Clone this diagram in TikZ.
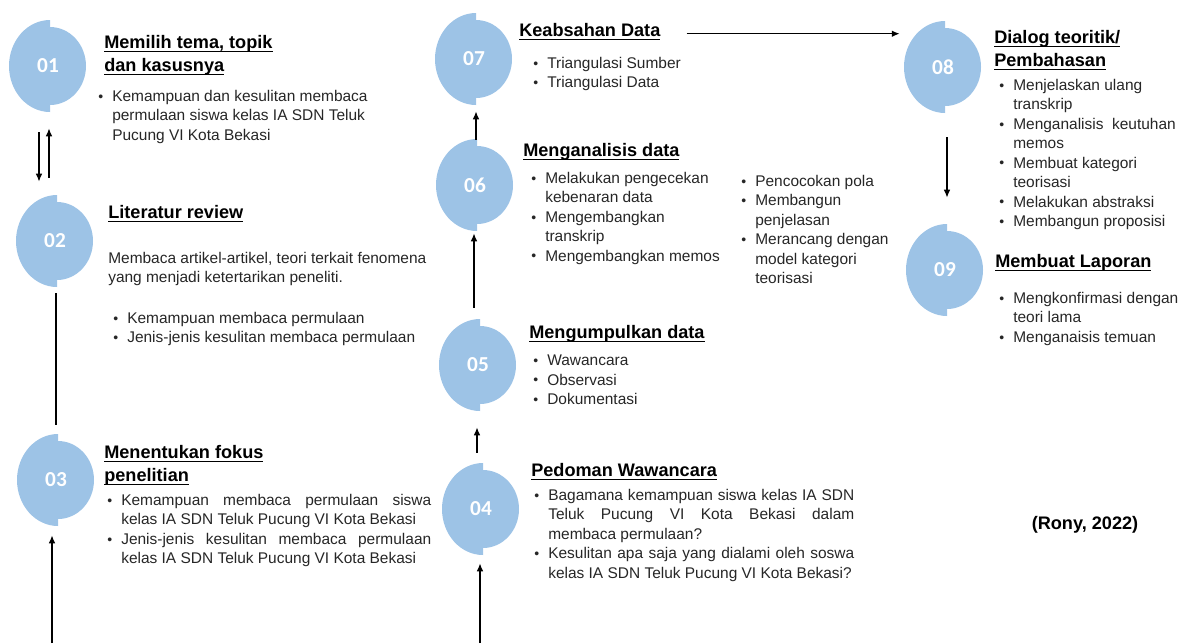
\documentclass[tikz,border=0pt]{standalone}
\usepackage{fontspec}
\setmainfont{Liberation Sans}
\newfontfamily\numfont{Carlito}
\usetikzlibrary{calc,arrows.meta}

\definecolor{discblue}{RGB}{157,195,230}

\newcommand\bulletmark{\makebox[10.5pt][l]{\raisebox{0.3pt}{\fontsize{10.5pt}{10.5pt}\selectfont\textbullet}}}
\newcommand\bulletgap{\hspace*{10.5pt}}
\newcommand\headrule[1]{\setbox0\hbox{#1}\rlap{\rule[-2.8pt]{\wd0}{1pt}}\box0}
% disc with the right half a bit smaller, number on top
\newcommand\stepdisc[3]{%
  \fill[discblue] (#2) ++(2,46) arc[start angle=90,end angle=270,x radius=41,y radius=46]
    -- ++(0,7) arc[start angle=-90,end angle=90,x radius=36,y radius=39] -- cycle;
  \node[stepnum] (#1) at (#2) {#3};}

\tikzset{
  stepnum/.style={circle,minimum size=69pt,inner sep=0pt,text=white,
    font=\numfont\bfseries\fontsize{16pt}{16pt}\selectfont},
  heading/.style={anchor=north west,inner sep=0pt,align=left,
    font=\bfseries\fontsize{13.6pt}{17.25pt}\selectfont},
  body/.style={anchor=north west,inner sep=0pt,align=left,text=black!85,
    font=\fontsize{11.6pt}{14.6pt}\selectfont},
  flow/.style={-{Latex[length=6pt,width=5pt]},line width=1.1pt},
}

\begin{document}
\begin{tikzpicture}[x=0.75pt,y=0.75pt]
  \useasboundingbox (0,0) rectangle (1180,-643);

  \stepdisc{s01}{48,-66}{01}
  \stepdisc{s02}{55,-241}{02}
  \stepdisc{s03}{56,-480}{03}
  \stepdisc{s04}{481,-509}{04}
  \stepdisc{s05}{478,-365}{05}
  \stepdisc{s06}{475,-185}{06}
  \stepdisc{s07}{474,-59}{07}
  \stepdisc{s08}{943,-67}{08}
  \stepdisc{s09}{945,-270}{09}

  \node[heading] (h01) at (104,-35) {\headrule{Memilih tema, topik}\\\headrule{dan kasusnya}};
  \node[body] (l01) at (98,-90) {\bulletmark Kemampuan dan kesulitan membaca\\
    \bulletgap permulaan siswa kelas IA SDN Teluk\\\bulletgap Pucung VI Kota Bekasi};

  \node[heading] (h02) at (108,-205) {\headrule{Literatur review}};
  \node[body] (p02) at (108,-252) {Membaca artikel-artikel, teori terkait fenomena\\
    yang menjadi ketertarikan peneliti.};
  \node[body] (l02) at (113,-312) {\bulletmark Kemampuan membaca permulaan\\
    \bulletmark Jenis-jenis kesulitan membaca permulaan};

  \node[heading] (h03) at (104,-445) {\headrule{Menentukan fokus}\\\headrule{penelitian}};
  \node[body] (l03) at (107,-494) {\bulletmark\makebox[232.5pt][s]{Kemampuan membaca permulaan siswa}\\
    \bulletgap kelas IA SDN Teluk Pucung VI Kota Bekasi\\
    \bulletmark\makebox[232.5pt][s]{Jenis-jenis kesulitan membaca permulaan}\\
    \bulletgap kelas IA SDN Teluk Pucung VI Kota Bekasi};

  \node[heading] (h04) at (531,-463) {\headrule{Pedoman Wawancara}};
  \node[body] (l04) at (534,-489) {\bulletmark\makebox[229.5pt][s]{Bagamana kemampuan siswa kelas IA SDN}\\
    \bulletgap\makebox[229.5pt][s]{Teluk Pucung VI Kota Bekasi dalam}\\
    \bulletgap membaca permulaan?\\
    \bulletmark\makebox[229.5pt][s]{Kesulitan apa saja yang dialami oleh soswa}\\
    \bulletgap kelas IA SDN Teluk Pucung VI Kota Bekasi?};

  \node[heading] (h05) at (529,-325) {\headrule{Mengumpulkan data}};
  \node[body] (l05) at (533,-355) {\bulletmark Wawancara\\\bulletmark Observasi\\\bulletmark Dokumentasi};

  \node[heading] (h06) at (523,-143) {\headrule{Menganalisis data}};
  \node[body] (l06) at (531,-172) {\bulletmark Melakukan pengecekan\\\bulletgap kebenaran data\\
    \bulletmark Mengembangkan\\\bulletgap transkrip\\\bulletmark Mengembangkan memos};
  \node[body] (m06) at (741,-175) {\bulletmark Pencocokan pola\\\bulletmark Membangun\\
    \bulletgap penjelasan\\\bulletmark Merancang dengan\\\bulletgap model kategori\\\bulletgap teorisasi};

  \node[heading] (h07) at (519,-23) {\headrule{Keabsahan Data}};
  \node[body] (l07) at (533,-57) {\bulletmark Triangulasi Sumber\\\bulletmark Triangulasi Data};

  \node[heading] (h08) at (994,-30) {\headrule{Dialog teoritik/}\\\headrule{Pembahasan}};
  \node[body] (l08) at (999,-79) {\bulletmark Menjelaskan ulang\\\bulletgap transkrip\\
    \bulletmark Menganalisis\ \ keutuhan\\\bulletgap memos\\\bulletmark Membuat kategori\\
    \bulletgap teorisasi\\\bulletmark Melakukan abstraksi\\\bulletmark Membangun proposisi};

  \node[heading] (h09) at (995,-254) {\headrule{Membuat Laporan}};
  \node[body] (l09) at (999,-292) {\bulletmark Mengkonfirmasi dengan\\\bulletgap teori lama\\
    \bulletmark Menganaisis temuan};

  \node[font=\bfseries\fontsize{13.6pt}{16pt}\selectfont] (cite) at (1085,-525) {(Rony, 2022)};

  % 01 <-> 02
  \draw[flow] ($(s01.south)+(-9,-20)$) -- ($(s02.north)+(-16,13)$);
  \draw[flow] ($(s02.north)+(-6,17)$) -- ($(s01.south)+(1,-16)$);
  % 02 -- 03
  \draw[line width=1.1pt] ($(s02.south)+(1,-6)$) -- ($(s03.north)+(0,9)$);
  % from below into 03 and 04
  \coordinate (in03) at (52,-643);
  \coordinate (in04) at (480,-643);
  \draw[flow] (in03) -- ($(s03.south)+(-4,-9)$);
  \draw[flow] (in04) -- ($(s04.south)+(-1,-8)$);
  % 04 -> 05 -> 06 -> 07
  \draw[flow] ($(s04.north)+(-4,10)$) -- ($(s05.south)+(-1,-16)$);
  \draw[flow] ($(s05.north)+(-4,11)$) -- ($(s06.south)+(-1,-2)$);
  \draw[flow] ($(s06.north)+(1,-1)$) -- ($(s07.south)+(2,-6)$);
  % 07 -> 08 -> 09
  \draw[flow,shorten >=7.9pt] ($(h07.east)+(26,-2)$) coordinate (a07) -- (a07 -| s08.north west);
  \draw[flow] ($(s08.south)+(4,-24)$) -- ($(s09.north)+(2,26)$);
\end{tikzpicture}
\end{document}
